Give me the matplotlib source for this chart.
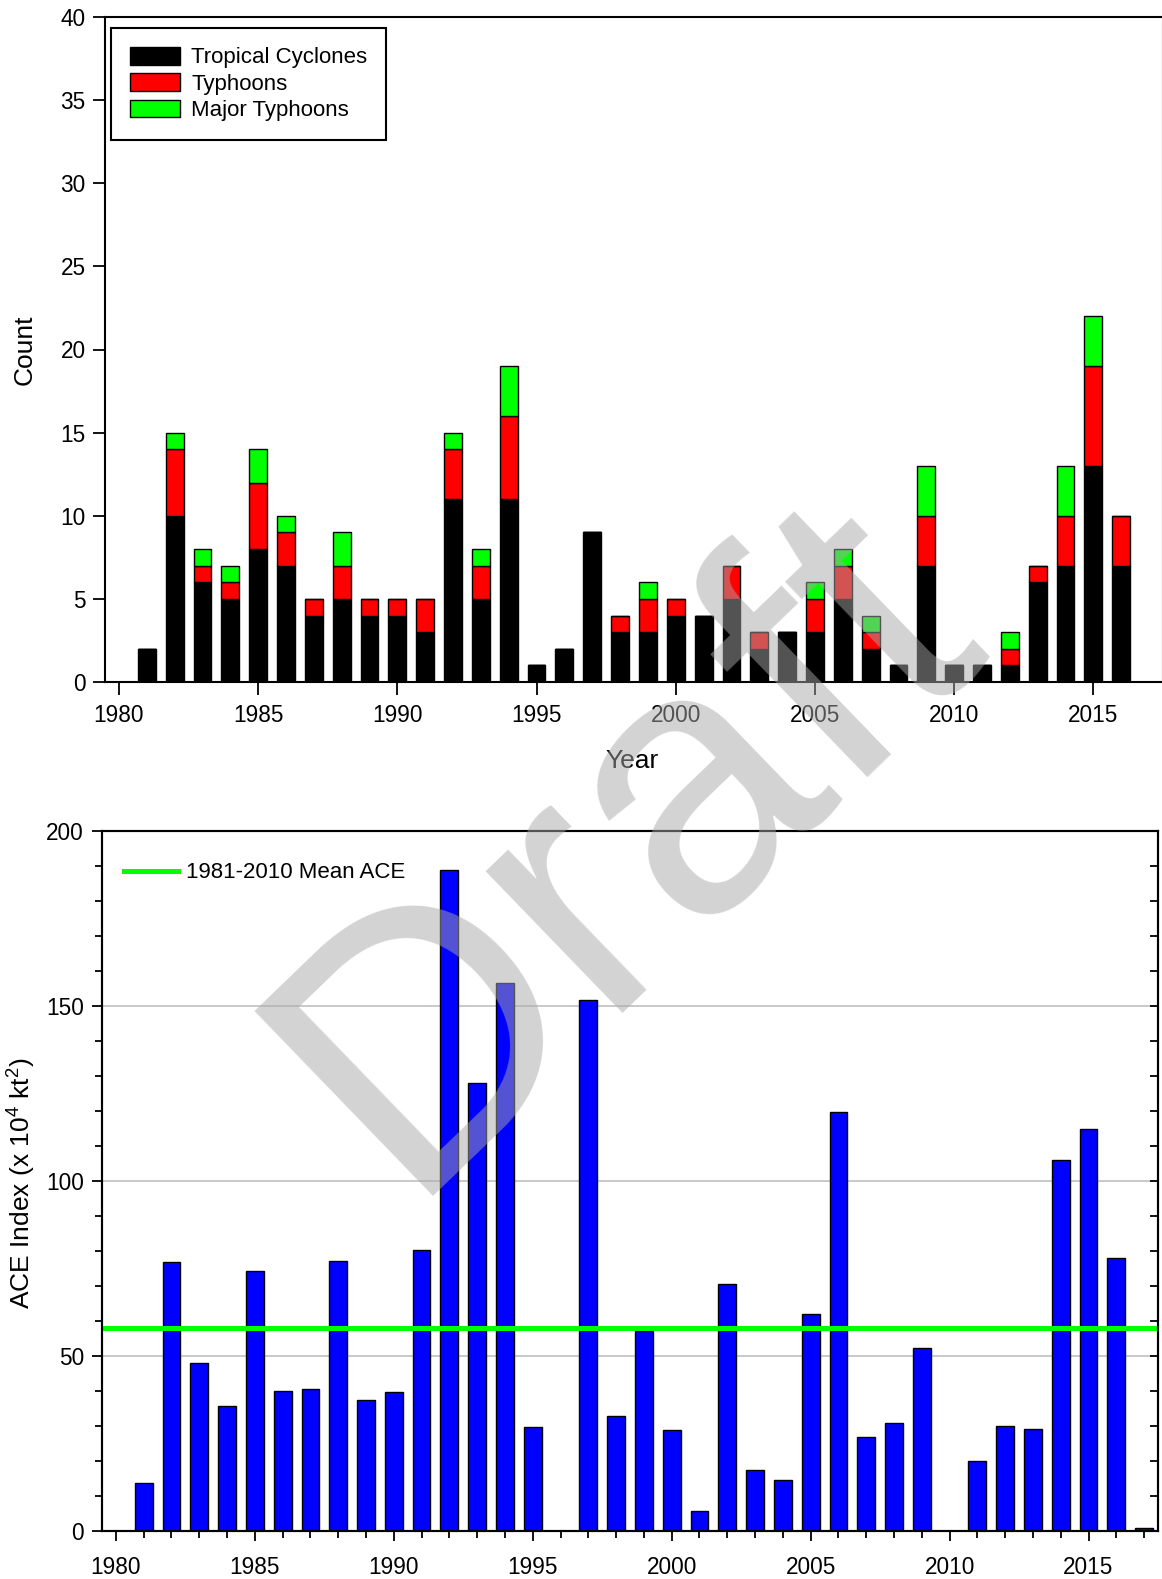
import numpy as np
import matplotlib.pyplot as plt
from matplotlib.ticker import MultipleLocator

plt.rcParams['font.family'] = ['Liberation Sans', 'DejaVu Sans']
plt.rcParams['mathtext.fontset'] = 'custom'
plt.rcParams['mathtext.rm'] = 'Liberation Sans'

# ---------------- data ----------------
years = np.arange(1981, 2017)
tropical_cyclones = [2, 10, 6, 5, 8, 7, 4, 5, 4, 4, 3, 11, 5, 11, 1, 2, 9, 3,
                     3, 4, 4, 5, 2, 3, 3, 5, 2, 1, 7, 1, 1, 1, 6, 7, 13, 7]
typhoons = [0, 4, 1, 1, 4, 2, 1, 2, 1, 1, 2, 3, 2, 5, 0, 0, 0, 1,
            2, 1, 0, 2, 1, 0, 2, 2, 1, 0, 3, 0, 0, 1, 1, 3, 6, 3]
major_typhoons = [0, 1, 1, 1, 2, 1, 0, 2, 0, 0, 0, 1, 1, 3, 0, 0, 0, 0,
                  1, 0, 0, 0, 0, 0, 1, 1, 1, 0, 3, 0, 0, 1, 0, 3, 3, 0]

ace_years = np.arange(1981, 2018)
ace = [13.8, 76.9, 47.9, 35.6, 74.4, 40.1, 40.5, 77.1, 37.4, 39.8,
       80.2, 188.9, 128.1, 156.7, 29.8, 0.0, 151.7, 33.0, 57.2, 28.9,
       5.8, 70.5, 17.4, 14.7, 62.0, 119.7, 26.8, 31.0, 52.4, 0.0,
       20.0, 30.1, 29.2, 106.0, 114.8, 78.1, 1.0]

ace = np.array(ace)
mean_ace = ace[(ace_years >= 1981) & (ace_years <= 2010)].mean()

tc = np.array(tropical_cyclones)
ty = np.array(typhoons)
mty = np.array(major_typhoons)

W, H = 1162, 1579
fig = plt.figure(figsize=(W / 100, H / 100), dpi=100)

bar_w = 0.64
tick_fs = 16.3
label_fs = 19

# ---------------- top: counts ----------------
ax1 = fig.add_axes([105 / W, 1 - 682 / H, 1058 / W, 665 / H])
ax1.bar(years, tc, bar_w, color='black', edgecolor='black', lw=1, label='Tropical Cyclones')
ax1.bar(years, ty, bar_w, bottom=tc, color='#ff0000', edgecolor='black', lw=1, label='Typhoons')
ax1.bar(years, mty, bar_w, bottom=tc + ty, color='#00ff00', edgecolor='black', lw=1, label='Major Typhoons')

ax1.set_xlim(1979.5, 2017.5)
ax1.set_ylim(0, 40)
ax1.xaxis.set_major_locator(MultipleLocator(5))
ax1.yaxis.set_major_locator(MultipleLocator(5))
ax1.tick_params(direction='out', length=9, width=1.3, labelsize=tick_fs)
ax1.tick_params(axis='y', pad=5)
ax1.tick_params(axis='x', pad=7)
for s in ax1.spines.values():
    s.set_linewidth(1.5)

ax1.set_ylabel('Count', fontsize=label_fs)
ax1.yaxis.label.set_va('center')
ax1.yaxis.set_label_coords(-0.0756, 0.5)
ax1.set_xlabel('Year', fontsize=label_fs)
ax1.xaxis.label.set_va('center')
ax1.xaxis.set_label_coords(0.498, -0.119)

leg1 = ax1.legend(loc='upper left', bbox_to_anchor=(0.0057, 0.9835), borderaxespad=0,
                  fontsize=16, frameon=True, fancybox=False, framealpha=1,
                  edgecolor='black', handlelength=2.25, handleheight=0.85,
                  handletextpad=0.5, labelspacing=0.22, borderpad=0.85)
leg1.get_frame().set_linewidth(1.5)

# ---------------- bottom: ACE ----------------
ax2 = fig.add_axes([102 / W, 1 - 1531 / H, 1056 / W, 700 / H])
ax2.bar(ace_years, ace, bar_w, color='#0000ff', edgecolor='black', lw=1, zorder=3)
ax2.axhline(mean_ace, color='#00ff00', lw=3.6, zorder=4, label='1981-2010 Mean ACE')

ax2.set_xlim(1979.5, 2017.5)
ax2.set_ylim(0, 200)
ax2.xaxis.set_major_locator(MultipleLocator(5))
ax2.xaxis.set_minor_locator(MultipleLocator(1))
ax2.yaxis.set_major_locator(MultipleLocator(50))
ax2.yaxis.set_minor_locator(MultipleLocator(10))
ax2.tick_params(which='major', direction='out', length=7, width=1.3, labelsize=tick_fs)
ax2.tick_params(which='minor', direction='out', length=5, width=1.3)
ax2.tick_params(axis='y', pad=6)
ax2.tick_params(axis='x', pad=11)
ax2.grid(axis='y', which='major', color='#c0c0c0', lw=1.2, zorder=0)
ax2.set_axisbelow(True)
for s in ax2.spines.values():
    s.set_linewidth(1.5)
    s.set_zorder(5)

# inward ticks on the right-hand side
ax2r = ax2.twinx()
ax2r.set_ylim(0, 200)
ax2r.yaxis.set_major_locator(MultipleLocator(50))
ax2r.yaxis.set_minor_locator(MultipleLocator(10))
ax2r.tick_params(which='both', direction='in', length=6, width=1.3, labelright=False)
for s in ax2r.spines.values():
    s.set_linewidth(1.5)

ax2.set_ylabel(r'ACE Index (x 10$^\mathregular{4}$ kt$^\mathregular{2}$)', fontsize=label_fs)
ax2.yaxis.label.set_va('center')
ax2.yaxis.set_label_coords(-0.0767, 0.497)

leg2 = ax2.legend(loc='upper left', bbox_to_anchor=(0.0126, 0.968), borderaxespad=0,
                  fontsize=16, frameon=False, handlelength=2.4, handletextpad=0.4)

# draft watermark over both panels
fig.text(0.5973, 0.4205, 'Draft', fontsize=269, color='#a8a8a8', alpha=0.5,
         rotation=44, rotation_mode='anchor', ha='center', va='baseline', zorder=20)

fig.savefig('out.png', dpi=100)
